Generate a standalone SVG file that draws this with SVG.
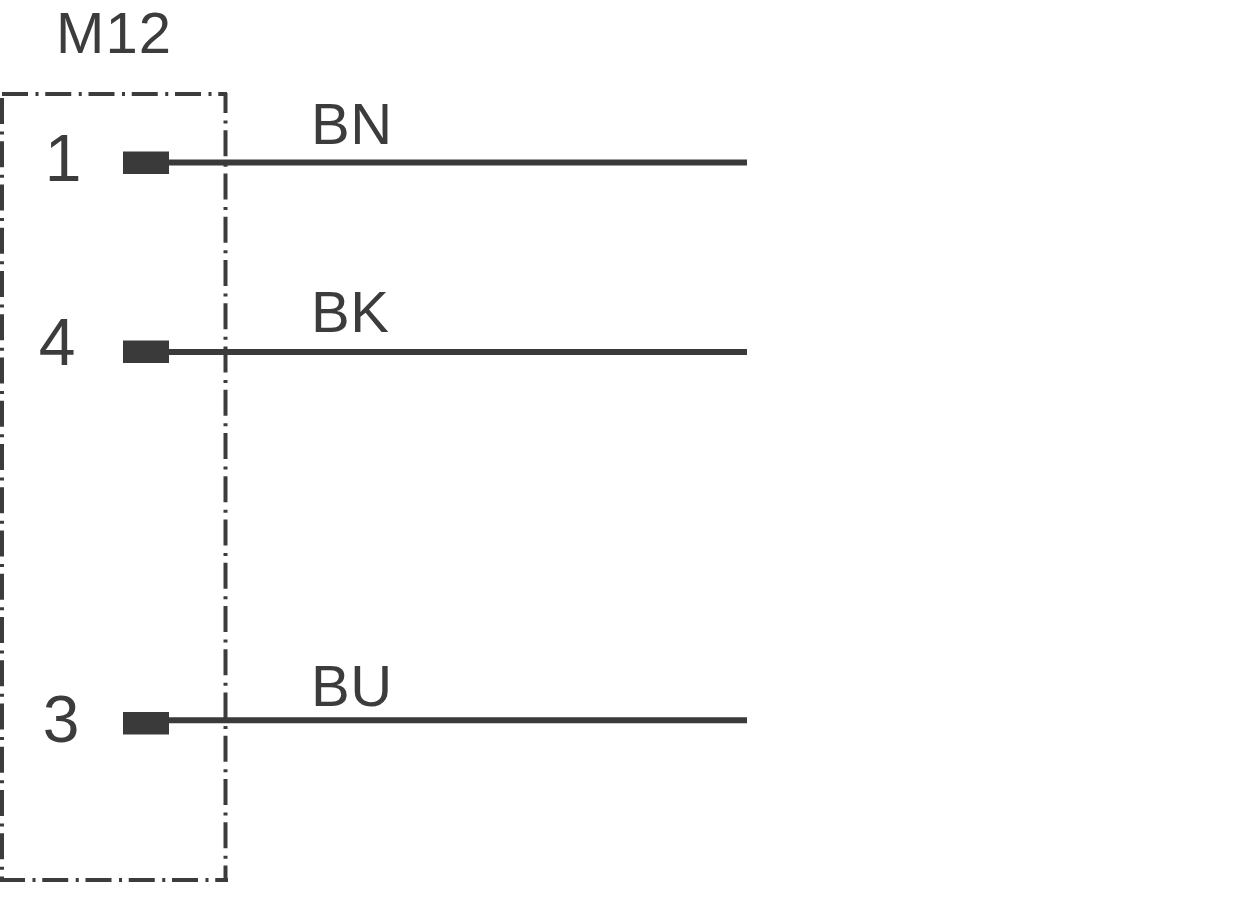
<svg xmlns="http://www.w3.org/2000/svg" width="1247" height="907" viewBox="0 0 1247 907">
<style>
text{font-family:"Liberation Sans",Arial,sans-serif;fill:#3c3c3c}
.n{font-size:66px;text-anchor:middle}
.w{font-size:58px;letter-spacing:.6px}
.pin{fill:#3a3a3a}
.wire{stroke:#3a3a3a;stroke-width:6;fill:none}
.box{stroke:#3c3c3c;stroke-width:4;fill:none;stroke-dasharray:26 7.5 3 6.75}
</style>
<rect width="1247" height="907" fill="#fff"/>
<g id="housing">
<path class="box" d="M2 94H227"/>
<path class="box" d="M225.500 93V881" stroke-dashoffset="6"/>
<path class="box" d="M0 880H228" stroke-dashoffset="1"/>
<path class="box" d="M2 98V878"/>
<text x="114" y="53" style="font-size:58px;text-anchor:middle;letter-spacing:1px">M12</text>
</g>
<g id="pin1"><rect class="pin" x="123" y="151.500" width="46" height="22.500"/><text class="n" x="63" y="181">1</text></g>
<g id="pin4"><rect class="pin" x="123" y="340.500" width="46" height="22.500"/><text class="n" x="57" y="365">4</text></g>
<g id="pin3"><rect class="pin" x="123" y="712" width="46" height="22.500"/><text class="n" x="61" y="742">3</text></g>
<g id="labels"><text class="w" x="311" y="144">BN</text><text class="w" x="311" y="332">BK</text><text class="w" x="311" y="706">BU</text></g>
<g id="connectors"><path class="wire" d="M169 162.500H747"/><path class="wire" d="M169 352H747"/><path class="wire" d="M169 720.300H747"/></g>
</svg>
